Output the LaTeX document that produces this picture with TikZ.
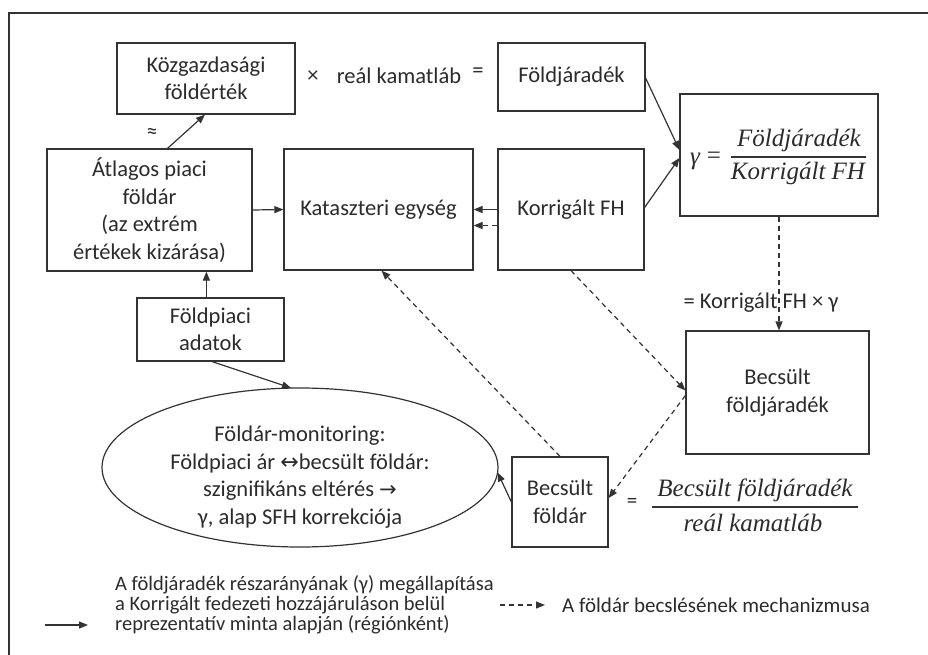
\documentclass[tikz,border=0pt]{standalone}
\usepackage{fontspec}
\setmainfont{Carlito}
\newfontfamily\frmfont{Liberation Serif}
\newfontfamily\djv{DejaVu Sans}
\usetikzlibrary{arrows.meta,shapes.geometric,calc}
\definecolor{linec}{HTML}{333333}
\definecolor{textc}{HTML}{2B2B2B}
\newcommand\boxfont{\fontsize{22.5}{27.5}\selectfont}
\newcommand\lgdfont{\fontsize{20.5}{20}\selectfont}
\newcommand\lgdbfont{\fontsize{21}{24}\selectfont}
\newcommand\frmsize{\fontsize{25}{30}\selectfont\frmfont\itshape}
\tikzset{
  box/.style={draw=linec, line width=1.2pt, align=center, inner sep=0pt, font=\boxfont, text=textc},
  conn/.style={draw=linec, line width=1.2pt, -{Triangle[length=9pt,width=7pt]}},
  dconn/.style={conn, dash pattern=on 5pt off 4pt},
  lbl/.style={inner sep=0pt, text=textc, font=\boxfont},
  lgd/.style={inner sep=0pt, text=textc, font=\lgdfont},
  frm/.style={inner sep=0pt, text=textc, font=\frmsize},
}
\begin{document}
\begin{tikzpicture}[x=1pt,y=-1pt]
\useasboundingbox (0,0) rectangle (928,655);
\draw[linec, line width=1.2pt] (9,655) -- (9,13) -- (928,13);

% boxes
\node[box, minimum width=178pt, minimum height=71pt] (kg) at (206,78.5) {Közgazdasági\\földérték};
\node[box, minimum width=147pt, minimum height=68pt] (fj) at (571.5,77) {Földjáradék};
\node[box, minimum width=198pt, minimum height=122pt] (gamma) at (779,155) {};
\node[box, minimum width=146pt, minimum height=121pt] (kfh) at (571,209.5) {Korrigált FH};
\node[box, minimum width=189pt, minimum height=121pt] (kat) at (378.5,209.5) {Kataszteri egység};
\node[box, minimum width=205pt, minimum height=122pt] (atl) at (149.5,210) {Átlagos piaci\\földár\\(az extrém\\értékek kizárása)};
\node[box, minimum width=147pt, minimum height=63pt] (fpa) at (210.5,329.5) {Földpiaci\\adatok};
\node[box, ellipse, minimum width=396pt, minimum height=159pt] (ell) at (300,467.5) {};
\node[lbl, align=center] (ellt) at (300,477) {Földár-monitoring:\\Földpiaci ár {\djv\fontsize{22}{24}\selectfont ↔}becsült földár:\\szignifikáns eltérés {\djv\fontsize{21}{24}\selectfont →}\\γ, alap SFH korrekciója};
\node[box, minimum width=96pt, minimum height=90pt] (bfa) at (560,502) {Becsült\\földár};
\node[box, minimum width=183pt, minimum height=123pt] (bfj) at (777.5,392.5) {Becsült\\földjáradék};

% texts between
\node[lbl] (times) at (313,77) {×};
\node[lbl] (rk) at (399,76) {reál kamatláb};
\node[lbl] (eq1) at (478,73) {=};
\node[lbl, font=\fontsize{22}{24}\selectfont] (approx) at (152,133) {≈};
\node[lbl] (kfhg) at (761,303) {= Korrigált FH × γ};

% gamma formula
\node[frm] (gsym) at (695,161) {γ};
\node[frm, font=\fontsize{25}{30}\selectfont\frmfont] (geq) at (714,158) {=};
\node[frm] (gnum) at (799,140) {Földjáradék};
\node[frm] (gden) at (798,173) {Korrigált FH};
\draw[linec, line width=1.1pt] (731,157) -- (866,157);

% second formula
\node[lbl, font=\fontsize{21}{24}\selectfont] (beq) at (632,503) {=};
\node[frm] (bnum) at (755,490) {Becsült földjáradék};
\node[frm] (bden) at (753,523) {reál kamatláb};
\draw[linec, line width=1.1pt] (652,507) -- (858,507);

% connectors
\draw[conn] ($(atl.north)+(18,0)$) -- ($(kg.south)+(-1,0)$);
\draw[conn] (atl.east) -- (kat.west);
\draw[conn] (kfh.west) -- (kat.east);
\draw[dconn] ($(kfh.west)+(0,16)$) -- ($(kat.east)+(0,16)$);
\draw[conn] ($(fj.east)+(0,1)$) -- ($(gamma.west)+(0,-5)$);
\draw[conn] ($(kfh.east)+(0,-2)$) -- ($(gamma.west)+(0,3)$);
\draw[dconn] (gamma.south) -- (gamma.south |- bfj.north);
\draw[dconn] (kfh.south) -- ($(bfj.west)+(0,-2)$);
\draw[dconn] ($(bfj.west)+(0,3)$) -- ($(bfa.east)+(0,-4)$);
\draw[dconn] (bfa.north) -- ($(kat.south)+(3,0)$);
\coordinate (p) at ($(fpa.north west)+(70,0)$);
\draw[conn] (p) -- (p |- atl.south);
\draw[conn] ($(fpa.south)+(1.5,0)$) -- ($(ell.north)+(-9,0.5)$);
\draw[conn] ($(bfa.west)+(0,0)$) -- ($(ell.east)+(-1,5)$);

% legend
\coordinate (l1a) at (45,625);
\coordinate (l1b) at (88,625);
\draw[conn] (l1a) -- (l1b);
\node[lgd, anchor=west, align=left] (lt1) at (115,605) {A földjáradék részarányának (γ) megállapítása\\a Korrigált fedezeti hozzájáruláson belül\\reprezentatív minta alapján (régiónként)};
\coordinate (l2a) at (500,605);
\coordinate (l2b) at (545,605);
\draw[dconn] (l2a) -- (l2b);
\node[lgd, anchor=west, font=\lgdbfont] (lt2) at (562,605) {A földár becslésének mechanizmusa};
\end{tikzpicture}
\end{document}
